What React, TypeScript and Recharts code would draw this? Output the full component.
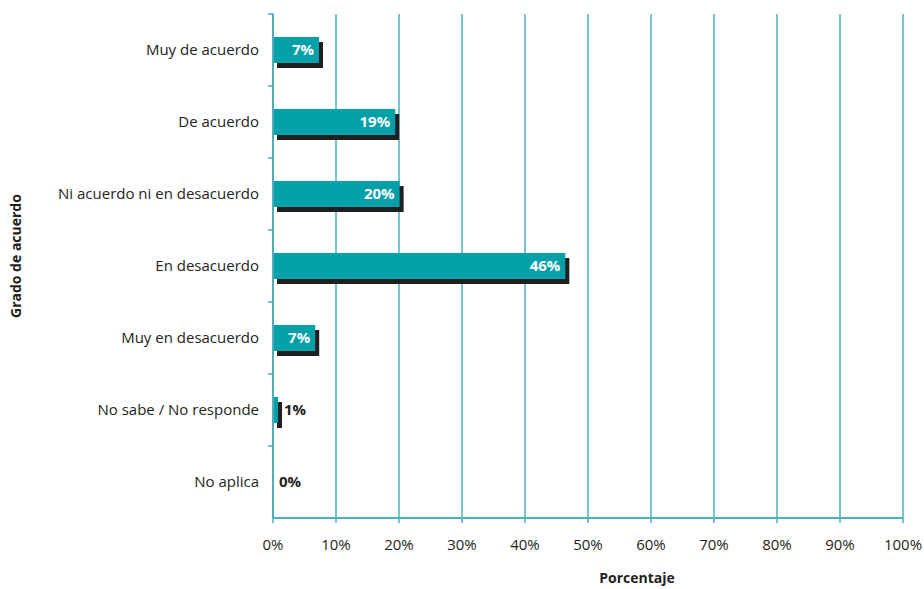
import { BarChart, Bar, XAxis, YAxis, CartesianGrid, LabelList } from "recharts";

const categories = [
  "Muy de acuerdo",
  "De acuerdo",
  "Ni acuerdo ni en desacuerdo",
  "En desacuerdo",
  "Muy en desacuerdo",
  "No sabe / No responde",
  "No aplica",
];
const values = [7.3, 19.4, 20.1, 46.4, 6.7, 0.8, 0];
const labels = ["7%", "19%", "20%", "46%", "7%", "1%", "0%"];
const xTicks = [0, 10, 20, 30, 40, 50, 60, 70, 80, 90, 100];

const data = categories.map((name, i) => ({ name, value: values[i], label: labels[i] }));

const TEAL = "#03a0aa";
const GRID = "#4db0b8";
const SHADOW = "#231f20";
const FONT = "'Open Sans', sans-serif";

function ShadowBar(props: any) {
  const { x, y, width, height } = props;
  if (!width || width <= 0) return null;
  return (
    <g>
      <rect x={x + 4} y={y + 5} width={width} height={height} fill={SHADOW} />
      <rect x={x} y={y} width={width} height={height} fill={TEAL} />
    </g>
  );
}

function BarLabel(props: any) {
  const { x, y, width, height, index } = props;
  const v = values[index];
  const inside = v >= 5;
  return (
    <text
      x={inside ? x + width - 5 : x + width + 6}
      y={y + height / 2 + 5}
      textAnchor={inside ? "end" : "start"}
      fill={inside ? "#ffffff" : "#231f20"}
      fontWeight="bold"
      fontSize={15}
      fontFamily={FONT}
    >
      {labels[index]}
    </text>
  );
}

function CatTick(props: any) {
  const { x, y, payload } = props;
  const off = payload.offset || 0;
  return (
    <g>
      <line x1={x + 3} x2={x + 9} y1={y - off} y2={y - off} stroke={GRID} strokeWidth={1.5} />
      <text x={x - 6} y={y + 5} textAnchor="end" fill="#231f20" fontSize={15} fontFamily={FONT}>
        {payload.value}
      </text>
    </g>
  );
}

function PctTick(props: any) {
  const { x, y, payload } = props;
  return (
    <text x={x} y={y + 25} textAnchor="middle" fill="#231f20" fontSize={15} fontFamily={FONT}>
      {`${payload.value}%`}
    </text>
  );
}

export default function App() {
  return (
    <div style={{ position: "absolute", left: 0, top: 0, background: "#fff" }}>
      <BarChart
        width={924}
        height={589}
        data={data}
        layout="vertical"
        margin={{ top: 14, right: 21, bottom: 11, left: 10 }}
        barCategoryGap={0}
      >
        <CartesianGrid horizontal={false} vertical stroke={GRID} strokeWidth={1.5} />
        <XAxis
          type="number"
          domain={[0, 100]}
          ticks={xTicks}
          axisLine={{ stroke: GRID, strokeWidth: 2 }}
          tickLine={{ stroke: GRID, strokeWidth: 1.5 }}
          tickSize={5}
          tick={<PctTick />}
          height={60}
          label={{
            value: "Porcentaje",
            position: "insideBottom",
            offset: 0,
            dx: 49,
            dy: 5,
            fill: "#231f20",
            fontSize: 14,
            fontWeight: "bold",
            fontFamily: FONT,
          }}
        />
        <YAxis
          type="category"
          dataKey="name"
          width={263}
          axisLine={{ stroke: GRID, strokeWidth: 2 }}
          tickLine={false}
          tick={<CatTick />}
          interval={0}
          label={{
            value: "Grado de acuerdo",
            angle: -90,
            position: "insideLeft",
            offset: 6,
            dy: 52,
            fill: "#231f20",
            fontSize: 14,
            fontWeight: "bold",
            fontFamily: FONT,
          }}
        />
        <Bar dataKey="value" barSize={26} shape={<ShadowBar />} isAnimationActive={false}>
          <LabelList dataKey="label" content={<BarLabel />} />
        </Bar>
      </BarChart>
    </div>
  );
}
